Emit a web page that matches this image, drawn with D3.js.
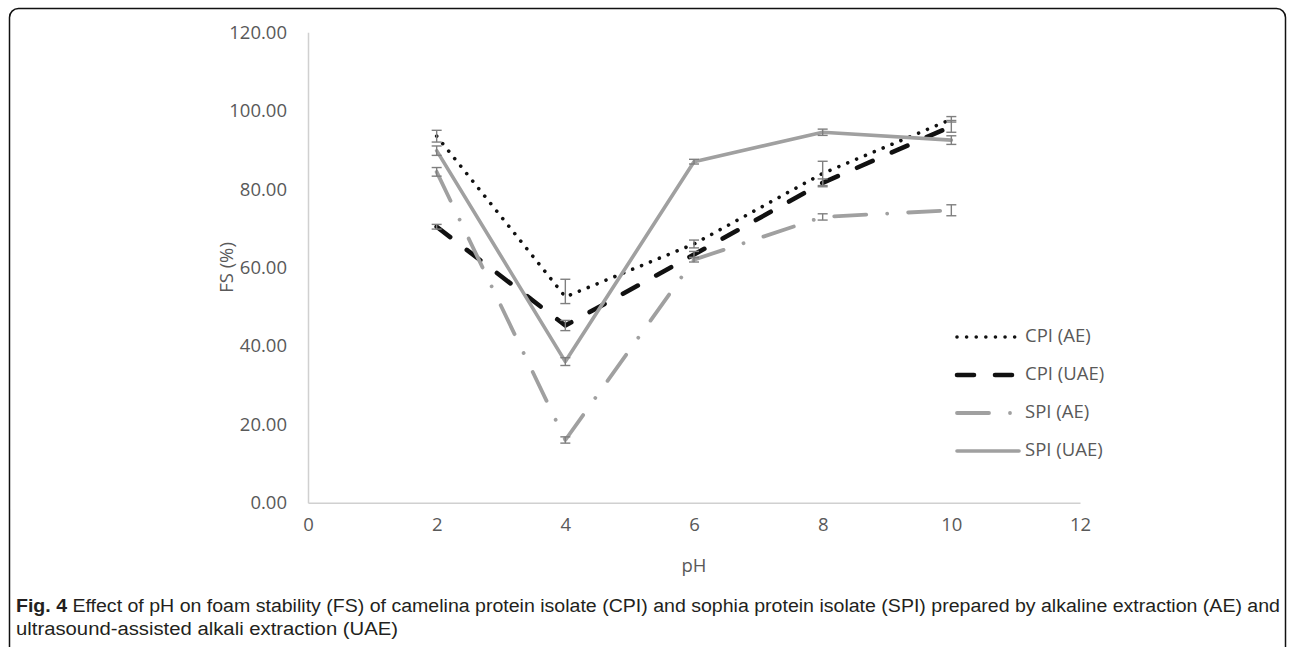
<!DOCTYPE html>
<html>
<head>
<meta charset="utf-8">
<script src="https://cdn.jsdelivr.net/npm/d3@7"></script>
<style>
  html, body { margin: 0; padding: 0; background: #fff; }
  svg { display: block; }
</style>
</head>
<body>
<svg id="chart" width="1292" height="647"></svg>
<script>
// ---- data ----
const pH = [2, 4, 6, 8, 10];
const xTicks = [0, 2, 4, 6, 8, 10, 12];
const yTicks = [0, 20, 40, 60, 80, 100, 120];
const seriesNames = ["CPI (AE)", "CPI (UAE)", "SPI (AE)", "SPI (UAE)"];
const cpiAE  = [93.5, 52.5, 66.0, 84.0, 97.8];
const cpiUAE = [70.4, 45.2, 63.3, 81.6, 96.0];
const spiAE  = [84.4, 16.0, 62.0, 72.9, 74.6];
const spiUAE = [89.8, 36.0, 87.0, 94.5, 92.5];
// error bars as [minus, plus]
const cpiAEerr  = [[1.5,1.5],[1.7,4.5],[1.0,1.0],[3.1,3.1],[0.7,0.7]];
const cpiUAEerr = [[0.6,0.6],[1.3,1.3],[0.8,0.8],[1.0,1.0],[1.5,1.5]];
const spiAEerr  = [[1.1,1.1],[0.8,0.8],[0.6,0.6],[0.8,0.8],[1.4,1.4]];
const spiUAEerr = [[1.2,1.2],[1.0,1.0],[0.6,0.6],[0.8,0.8],[1.1,1.1]];
const captionBold = "Fig. 4";
const captionLine1 = " Effect of pH on foam stability (FS) of camelina protein isolate (CPI) and sophia protein isolate (SPI) prepared by alkaline extraction (AE) and";
const captionLine2 = "ultrasound-assisted alkali extraction (UAE)";

const styles = [
  { color: "#111", width: 3.6, dash: "0.01 9.6", cap: "round" },
  { color: "#111", width: 4.6, dash: "17 21", cap: "round" },
  { color: "#a0a0a0", width: 3.8, dash: "32 21 0.01 21", cap: "round" },
  { color: "#a0a0a0", width: 3.6, dash: null, cap: "round" }
];
const allValues = [cpiAE, cpiUAE, spiAE, spiUAE];
const allErr = [cpiAEerr, cpiUAEerr, spiAEerr, spiUAEerr];

// ---- layout ----
const svg = d3.select("#chart");
const x = d3.scaleLinear().domain([0, 12]).range([308, 1080]);
const y = d3.scaleLinear().domain([0, 120]).range([502.7, 32.3]);
const tickFont = "'Open Sans', 'Noto Sans', sans-serif";
const capFont = "'Liberation Sans', 'DejaVu Sans', sans-serif";
const fs = 18.5;

// border
svg.append("rect")
  .attr("x", 9.5).attr("y", 8.5).attr("width", 1276).attr("height", 660)
  .attr("rx", 9).attr("ry", 9)
  .attr("fill", "none").attr("stroke", "#111").attr("stroke-width", 1.5);

// axes
const yAxis = d3.axisLeft(y).tickValues(yTicks).tickSize(0).tickPadding(21).tickFormat(d3.format(".2f"));
const gy = svg.append("g").attr("transform", `translate(${x(0)},0)`).call(yAxis);
gy.select(".domain").attr("stroke", "#d0d0d0").attr("stroke-width", 1.5);
gy.selectAll("text").attr("font-family", tickFont).attr("font-size", fs).attr("fill", "#595959");

const xAxis = d3.axisBottom(x).tickValues(xTicks).tickSize(0).tickPadding(15).tickFormat(d3.format("d"));
const gx = svg.append("g").attr("transform", `translate(0,${y(0)})`).call(xAxis);
gx.select(".domain").attr("stroke", "#d0d0d0").attr("stroke-width", 1.5);
gx.selectAll("text").attr("font-family", tickFont).attr("font-size", fs).attr("fill", "#595959");

// axis titles
svg.append("text")
  .attr("transform", `translate(228,${(y(0) + y(120)) / 2}) rotate(-90)`)
  .attr("text-anchor", "middle").attr("dominant-baseline", "middle")
  .attr("font-family", tickFont).attr("font-size", fs).attr("fill", "#595959")
  .text("FS (%)");
svg.append("text")
  .attr("x", (x(0) + x(12)) / 2).attr("y", 567)
  .attr("text-anchor", "middle").attr("dominant-baseline", "middle")
  .attr("font-family", tickFont).attr("font-size", fs).attr("fill", "#595959")
  .text("pH");

// lines
const line = d3.line().x(d => x(d[0])).y(d => y(d[1]));
allValues.forEach((vals, i) => {
  const s = styles[i];
  svg.append("path")
    .datum(pH.map((p, j) => [p, vals[j]]))
    .attr("d", line)
    .attr("fill", "none")
    .attr("stroke", s.color)
    .attr("stroke-width", s.width)
    .attr("stroke-linecap", s.cap)
    .attr("stroke-linejoin", "round")
    .attr("stroke-dasharray", s.dash);
});

// error bars
const errColor = "#7f7f7f";
allValues.forEach((vals, i) => {
  const g = svg.append("g");
  pH.forEach((p, j) => {
    const lo = vals[j] - allErr[i][j][0];
    const hi = vals[j] + allErr[i][j][1];
    const cx = x(p);
    g.append("line").attr("x1", cx).attr("x2", cx).attr("y1", y(lo)).attr("y2", y(hi))
      .attr("stroke", errColor).attr("stroke-width", 1.4);
    [lo, hi].forEach(v => {
      g.append("line").attr("x1", cx - 5).attr("x2", cx + 5).attr("y1", y(v)).attr("y2", y(v))
        .attr("stroke", errColor).attr("stroke-width", 1.4);
    });
  });
});

// legend
const legendY = [337, 375, 413, 451];
seriesNames.forEach((name, i) => {
  const s = styles[i];
  svg.append("line")
    .attr("x1", 957).attr("x2", 1019).attr("y1", legendY[i]).attr("y2", legendY[i])
    .attr("stroke", s.color).attr("stroke-width", s.width)
    .attr("stroke-linecap", s.cap).attr("stroke-dasharray", s.dash);
  svg.append("text")
    .attr("x", 1025).attr("y", legendY[i])
    .attr("dominant-baseline", "middle")
    .attr("font-family", tickFont).attr("font-size", fs).attr("fill", "#595959")
    .text(name);
});

// caption
const cap1 = svg.append("text")
  .attr("x", 16).attr("y", 612)
  .attr("font-family", capFont)
  .attr("font-size", 18).attr("fill", "#231f20")
  .attr("textLength", 1264).attr("lengthAdjust", "spacingAndGlyphs");
cap1.append("tspan").attr("font-weight", "bold").text(captionBold);
cap1.append("tspan").text(captionLine1);
svg.append("text")
  .attr("x", 16).attr("y", 635)
  .attr("font-family", capFont)
  .attr("font-size", 18).attr("fill", "#231f20")
  .attr("textLength", 382).attr("lengthAdjust", "spacingAndGlyphs")
  .text(captionLine2);
</script>
</body>
</html>
